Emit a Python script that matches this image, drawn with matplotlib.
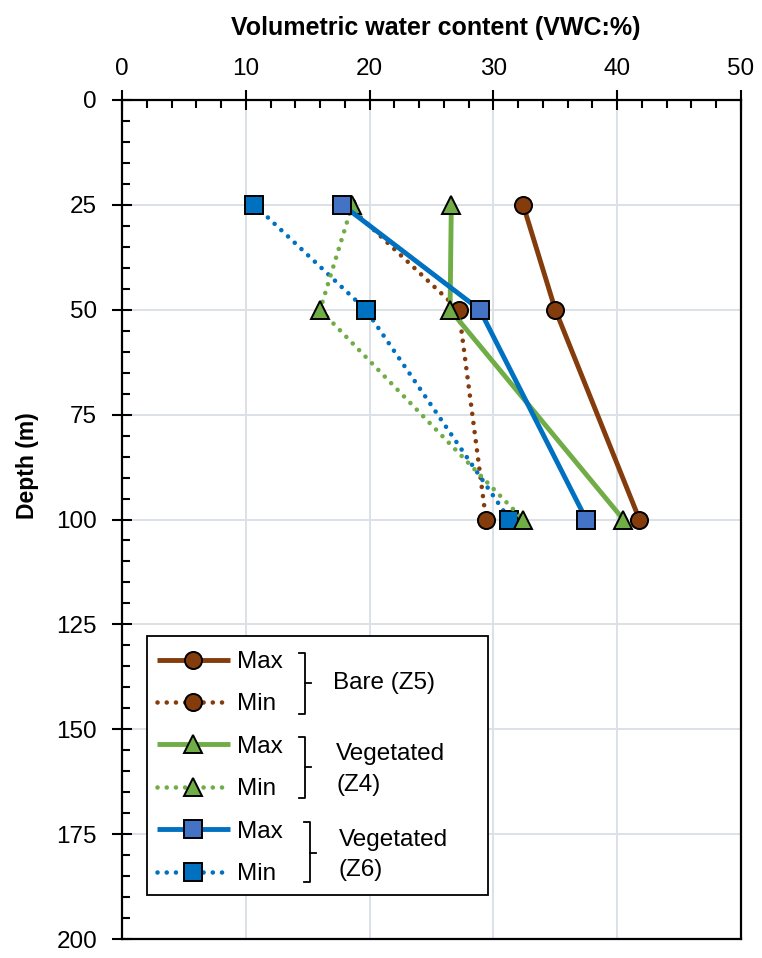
import matplotlib
matplotlib.use("Agg")
import matplotlib.pyplot as plt
from matplotlib.lines import Line2D
from matplotlib.patches import Rectangle
from matplotlib.ticker import MultipleLocator

plt.rcParams['font.family'] = ['Liberation Sans', 'DejaVu Sans']

# ---- data ----
depth = [25, 50, 100]
bare_max = [32.4, 35.0, 41.8]
bare_min = [18.2, 27.2, 29.4]
veg_z4_max = [26.6, 26.5, 40.5]
veg_z4_min = [18.6, 16.0, 32.4]
veg_z6_max = [17.8, 28.9, 37.5]
veg_z6_min = [10.7, 19.7, 31.3]

x_ticks = [0, 10, 20, 30, 40, 50]
y_ticks = [0, 25, 50, 75, 100, 125, 150, 175, 200]
group_labels = ["Bare (Z5)", "Vegetated\n(Z4)", "Vegetated\n(Z6)"]
series_labels = ["Max", "Min"]

BROWN = "#843C0C"
GREEN = "#70AD47"
BLUE = "#0070C0"
BLUE_MAX_FACE = "#4472C4"

W, H = 762, 958
fig = plt.figure(figsize=(W / 100, H / 100), dpi=100)
ax = fig.add_axes([122 / W, 1 - 939 / H, (741 - 122) / W, (939 - 100) / H])

solid_lw = 3.5
dot_lw = 3.3
dotted = (0, (0.01, 2.0))
ms = 12.3
mew = 1.4

series = [
    (bare_max, BROWN, BROWN, 'o', '-', 3),
    (bare_min, BROWN, BROWN, 'o', dotted, 3.1),
    (veg_z6_min, BLUE, BLUE, 's', dotted, 3.2),
    (veg_z4_max, GREEN, GREEN, '^', '-', 3.3),
    (veg_z4_min, GREEN, GREEN, '^', dotted, 3.4),
    (veg_z6_max, BLUE, BLUE_MAX_FACE, 's', '-', 3.5),
]
handles = {}
for vals, lc, fc, mk, ls, z in series:
    lw = solid_lw if ls == '-' else dot_lw
    ln, = ax.plot(vals, depth, color=lc, lw=lw, linestyle=ls,
                  dash_capstyle='round', solid_capstyle='butt',
                  marker=mk, markersize=ms, markerfacecolor=fc,
                  markeredgecolor='black', markeredgewidth=mew, zorder=z)
    handles[id(vals)] = ln

ax.set_xlim(0, 50)
ax.set_ylim(200, 0)
ax.xaxis.tick_top()
ax.xaxis.set_label_position('top')
ax.set_xticks(x_ticks)
ax.set_yticks(y_ticks)
ax.xaxis.set_minor_locator(MultipleLocator(2))
ax.yaxis.set_minor_locator(MultipleLocator(5))
ax.tick_params(axis='both', which='major', direction='inout', length=15,
               width=1.5, labelsize=17.5, color='black')
ax.tick_params(axis='x', which='major', pad=7)
ax.tick_params(axis='y', which='major', pad=10.5)
ax.tick_params(axis='both', which='minor', direction='in', length=6, width=1.5)
ax.tick_params(axis='x', which='minor', top=True, bottom=False)
for s in ax.spines.values():
    s.set_linewidth(1.6)
    s.set_color('black')
ax.grid(True, which='major', color='#DCE0E7', lw=1.4, zorder=0)
ax.set_axisbelow(True)

ax.set_xlabel("Volumetric water content (VWC:%)", fontsize=18,
              fontweight='bold')
ax.xaxis.set_label_coords(0.507, 1.077)
ax.set_ylabel("Depth (m)", fontsize=16.5, fontweight='bold')
ax.yaxis.set_label_coords(-0.134, 0.5644)

# ---- legend ----
def fx(px):
    return px / W

def fy(py):
    return 1 - py / H

box = Rectangle((fx(147), fy(895)), fx(488) - fx(147), fy(636) - fy(895),
                transform=fig.transFigure, facecolor='white',
                edgecolor='black', lw=1.3, zorder=2)
fig.patches.append(box)

leg_handles = [handles[id(bare_max)], handles[id(bare_min)],
               handles[id(veg_z4_max)], handles[id(veg_z4_min)],
               handles[id(veg_z6_max)], handles[id(veg_z6_min)]]
leg_labels = series_labels * 3
fig.legend(leg_handles, leg_labels, loc='upper left',
           bbox_to_anchor=(fx(157), fy(651)), frameon=False,
           fontsize=17.5, handlelength=3.0, handletextpad=0.3,
           labelspacing=0.84, borderpad=0, borderaxespad=0,
           numpoints=1)

brackets = [(305, 653, 714, 683), (305, 737, 798, 767), (310, 822, 882, 853)]
for xv, yt, yb, ym in brackets:
    fig.lines.append(Line2D([fx(xv - 6), fx(xv), fx(xv), fx(xv - 6)],
                            [fy(yt), fy(yt), fy(yb), fy(yb)],
                            transform=fig.transFigure, color='black', lw=1.3,
                            zorder=3))
    fig.lines.append(Line2D([fx(xv), fx(xv + 6)], [fy(ym), fy(ym)],
                            transform=fig.transFigure, color='black', lw=1.3,
                            zorder=3))

fig.text(fx(333), fy(683), group_labels[0], fontsize=17.5, va='center',
         ha='left', zorder=4)
fig.text(fx(336), fy(769.5), group_labels[1], fontsize=17.5, va='center',
         ha='left', linespacing=1.5, zorder=4)
fig.text(fx(339), fy(855), group_labels[2], fontsize=17.5, va='center',
         ha='left', linespacing=1.5, zorder=4)

fig.savefig("out.png", dpi=100)
